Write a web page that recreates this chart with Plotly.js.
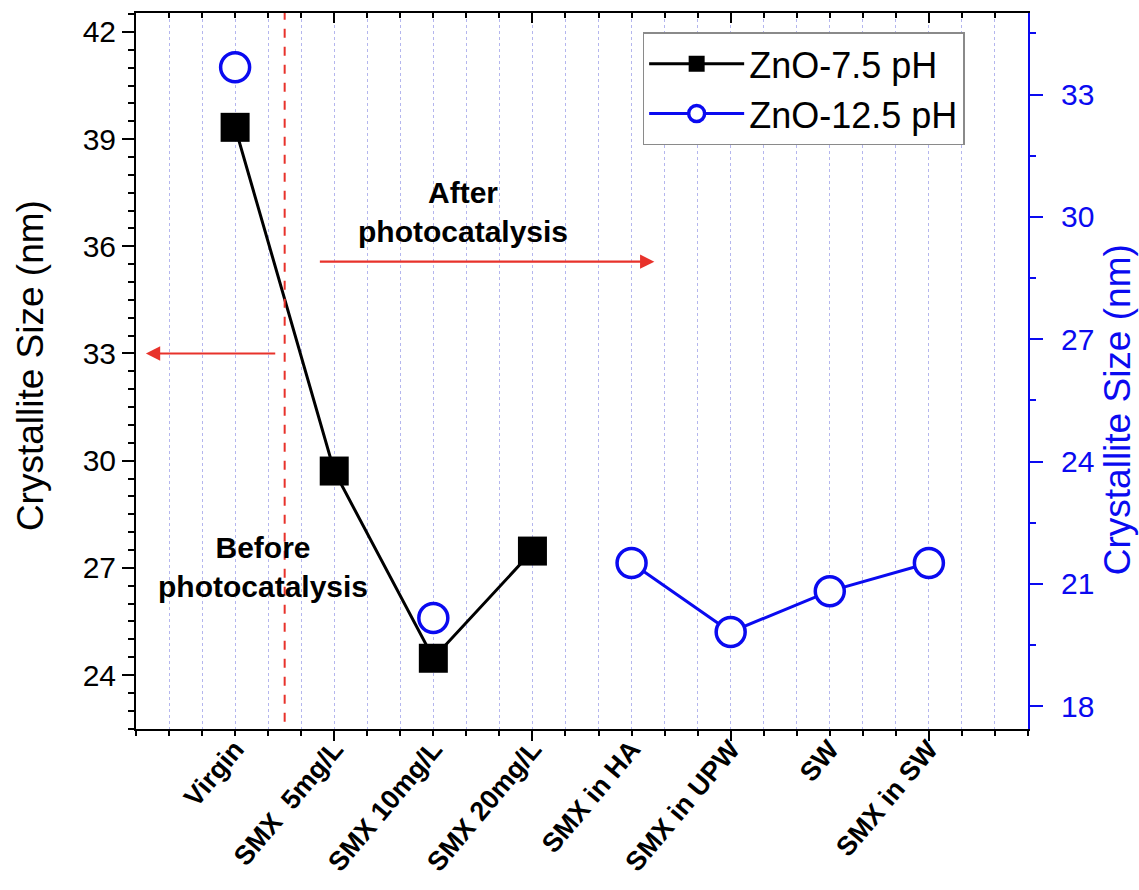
<!DOCTYPE html>
<html>
<head>
<meta charset="utf-8">
<script src="https://cdn.plot.ly/plotly-3.0.1.min.js"></script>
<style>
  html, body { margin: 0; padding: 0; background: #ffffff; }
  #chart { width: 1139px; height: 890px; }
</style>
</head>
<body>
<div id="chart"></div>
<script>
// ---- data ----
const categories = ["Virgin", "SMX\u00a0 5mg/L", "SMX 10mg/L", "SMX 20mg/L", "SMX in HA", "SMX in UPW", "SW", "SMX in SW"];
const xPos = [1, 2, 3, 4, 5, 6, 7, 8];
const zno75 = [39.33, 29.71, 24.47, 27.47, null, null, null, null];
const zno125 = [33.67, null, 20.16, null, 21.51, 19.82, 20.82, 21.51];
const seriesNames = ["ZnO-7.5 pH", "ZnO-12.5 pH"];
const majorXTicks = [2, 4, 6, 8];
const yTitle = "Crystallite Size (nm)";

const FONT = "Liberation Sans, Arial, Helvetica, sans-serif";
const BLUE = "#0a0af0";
const RED = "#e8322b";
const GRID = "#b4b6ee";

const traces = [
  {
    x: xPos, y: zno75, name: seriesNames[0], type: "scatter", mode: "lines+markers",
    xaxis: "x", yaxis: "y",
    line: { color: "#000000", width: 3 },
    marker: { symbol: "square", size: 29, color: "#000000", line: { width: 0 } },
    connectgaps: false
  },
  {
    x: xPos, y: zno125, name: seriesNames[1], type: "scatter", mode: "lines+markers",
    xaxis: "x2", yaxis: "y2",
    line: { color: BLUE, width: 3 },
    marker: { symbol: "circle", size: 29, color: "#ffffff", line: { color: BLUE, width: 3.5 } },
    connectgaps: false
  },
  {
    // invisible helper trace so the top frame axis is drawn
    x: xPos, y: xPos.map(() => null), xaxis: "x3", yaxis: "y",
    type: "scatter", mode: "markers", showlegend: false, hoverinfo: "skip"
  }
];

const layout = {
  width: 1139, height: 890,
  margin: { l: 136, r: 111, t: 13, b: 161 },
  paper_bgcolor: "#ffffff", plot_bgcolor: "#ffffff",
  font: { family: FONT, color: "#000000", size: 30 },
  showlegend: true,
  legend: {
    x: 0.568, y: 0.973, xanchor: "left", yanchor: "top",
    bgcolor: "#ffffff", bordercolor: "#8a8a8a", borderwidth: 1.5,
    font: { family: FONT, size: 36, color: "#000000" },
    tracegroupgap: 0, itemwidth: 95
  },
  xaxis: {
    range: [0, 9], tickmode: "array", tickvals: majorXTicks, showticklabels: false,
    ticks: "outside", ticklen: 10, tickwidth: 2, tickcolor: "#000000",
    showline: true, linecolor: "#000000", linewidth: 2, zeroline: false,
    showgrid: true, gridcolor: GRID, gridwidth: 1, griddash: "dot",
    minor: { dtick: 1/3, tick0: 0, ticks: "outside", ticklen: 5, tickwidth: 2, tickcolor: "#000000",
             showgrid: true, gridcolor: GRID, gridwidth: 1, griddash: "dot" }
  },
  xaxis2: {
    overlaying: "x", anchor: "y", side: "bottom", range: [0, 9],
    tickmode: "array", tickvals: xPos, ticktext: categories, tickangle: -50,
    ticks: "", showline: false, showgrid: false, zeroline: false, ticklabelstandoff: -2,
    tickfont: { family: FONT, size: 27, color: "#000000", weight: "bold" }
  },
  xaxis3: {
    overlaying: "x", anchor: "y", side: "top", range: [0, 9],
    tickmode: "array", tickvals: majorXTicks, showticklabels: false,
    ticks: "inside", ticklen: 10, tickwidth: 2, tickcolor: "#000000",
    showline: true, linecolor: "#000000", linewidth: 2, zeroline: false, showgrid: false,
    minor: { dtick: 1/3, tick0: 0, ticks: "inside", ticklen: 5, tickwidth: 2, tickcolor: "#000000", showgrid: false }
  },
  yaxis: {
    range: [22.49, 42.53], tick0: 0, dtick: 3,
    ticks: "outside", ticklen: 12, tickwidth: 2, tickcolor: "#000000",
    showline: true, linecolor: "#000000", linewidth: 2, zeroline: false, showgrid: false,
    tickfont: { family: FONT, size: 30, color: "#000000" },
    minor: { dtick: 0.5, tick0: 0, ticks: "outside", ticklen: 6, tickwidth: 2, tickcolor: "#000000", showgrid: false }
  },
  yaxis2: {
    overlaying: "y", anchor: "x", side: "right",
    range: [17.44, 35.0], tick0: 0, dtick: 3,
    ticks: "outside", ticklen: 13, tickwidth: 2, tickcolor: BLUE,
    showline: true, linecolor: BLUE, linewidth: 2, zeroline: false, showgrid: false,
    tickfont: { family: FONT, size: 30, color: BLUE }, ticklabelstandoff: 12,
    minor: { dtick: 1.5, tick0: 0, ticks: "outside", ticklen: 6, tickwidth: 2, tickcolor: BLUE, showgrid: false }
  },
  shapes: [
    { type: "line", xref: "x", yref: "paper", x0: 1.5, x1: 1.5, y0: 0.01, y1: 1,
      line: { color: RED, width: 2, dash: "dash" } }
  ],
  annotations: [
    { xref: "paper", yref: "paper", x: -0.119, y: 0.508, text: yTitle, textangle: -90,
      showarrow: false, font: { family: FONT, size: 37, color: "#000000" }, xanchor: "center", yanchor: "middle" },
    { xref: "paper", yref: "paper", x: 1.1, y: 0.4455, text: yTitle, textangle: -90,
      showarrow: false, font: { family: FONT, size: 37, color: BLUE }, xanchor: "center", yanchor: "middle" },
    { xref: "x", yref: "y", x: 1.28, y: 27.02, text: "<b>Before</b><br><b>photocatalysis</b>",
      showarrow: false, font: { family: FONT, size: 30, color: "#000000" }, align: "center" },
    { xref: "x", yref: "y", x: 3.3, y: 36.95, text: "<b>After</b><br><b>photocatalysis</b>",
      showarrow: false, font: { family: FONT, size: 30, color: "#000000" }, align: "center" },
    { xref: "x", yref: "y", axref: "x", ayref: "y", x: 0.1, y: 33.0, ax: 1.42, ay: 33.0, text: "",
      showarrow: true, arrowhead: 2, arrowsize: 1.3, arrowwidth: 2.2, arrowcolor: RED },
    { xref: "x", yref: "y", axref: "x", ayref: "y", x: 5.23, y: 35.57, ax: 1.84, ay: 35.57, text: "",
      showarrow: true, arrowhead: 2, arrowsize: 1.3, arrowwidth: 2.2, arrowcolor: RED }
  ]
};

Plotly.newPlot("chart", traces, layout, { displayModeBar: false, staticPlot: true });
</script>
</body>
</html>
